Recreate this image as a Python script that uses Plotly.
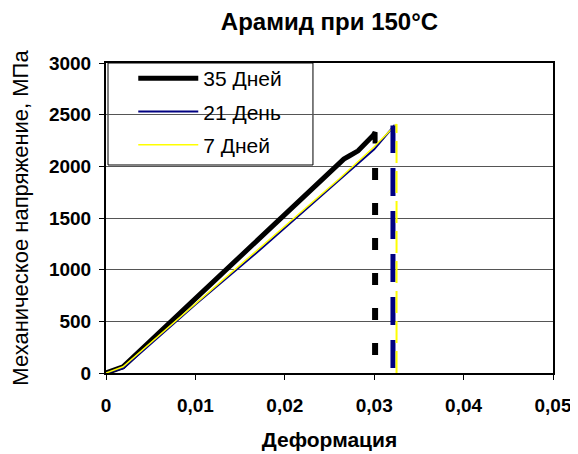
import plotly.graph_objects as go

# ---- data ----
series_names = ["35 Дней", "21 День", "7 Дней"]

strain_35 = [0, 0.0019, 0.0100, 0.0200, 0.0258, 0.0266, 0.0272, 0.0282, 0.0299, 0.0301, 0.0301]
stress_35 = [0, 60, 720, 1530, 1990, 2070, 2100, 2150, 2300, 2330, 2220]

strain_21 = [0, 0.0019, 0.0100, 0.0171, 0.0252, 0.0300, 0.0323]
stress_21 = [0, 45, 662, 1182, 1800, 2165, 2400]

strain_7 = [0, 0.0019, 0.0261, 0.0300, 0.0325]
stress_7 = [0, 60, 1880, 2190, 2410]

# failure markers (vertical dashed lines)
fail_35_x = [0.0301, 0.0301]
fail_35_y = [174, 1985]
fail_21_x = [0.0321, 0.0321]
fail_21_y = [48, 2396]
fail_7_x = [0.0325, 0.0325]
fail_7_y = [0, 2410]

x_ticks = [0, 0.01, 0.02, 0.03, 0.04, 0.05]
y_ticks = [0, 500, 1000, 1500, 2000, 2500, 3000]

FONT = "Liberation Sans, Arial, sans-serif"

fig = go.Figure()
fig.add_trace(go.Scatter(x=strain_35, y=stress_35, mode="lines", name=series_names[0],
                         legendgroup="a", line=dict(color="black", width=5)))
fig.add_trace(go.Scatter(x=strain_21, y=stress_21, mode="lines", name=series_names[1],
                         legendgroup="b", line=dict(color="#000080", width=2)))
fig.add_trace(go.Scatter(x=strain_7, y=stress_7, mode="lines", name=series_names[2],
                         legendgroup="c", line=dict(color="#FFFF00", width=1.5)))
fig.add_trace(go.Scatter(x=fail_35_x, y=fail_35_y, mode="lines", showlegend=False,
                         line=dict(color="black", width=6, dash="12px,23px")))
fig.add_trace(go.Scatter(x=fail_21_x, y=fail_21_y, mode="lines", showlegend=False,
                         line=dict(color="#000080", width=5, dash="28px,15px")))
fig.add_trace(go.Scatter(x=fail_7_x, y=fail_7_y, mode="lines", showlegend=False,
                         line=dict(color="#FFFF00", width=2, dash="22px,8px")))

# legend box (covers gridlines, sits beneath traces)
fig.add_shape(type="rect", xref="paper", yref="paper", x0=0.0045, x1=0.463, y0=0.671, y1=1.0,
              fillcolor="white", line=dict(color="black", width=1), layer="between")

# the page body adds an 8px margin, so the figure is 8px smaller than the window
fig.update_layout(
    width=570, height=446,
    margin=dict(l=98, r=25, t=55, b=81),
    paper_bgcolor="white", plot_bgcolor="white",
    separators=", ",
    font=dict(family=FONT, color="black"),
    title=dict(text="Арамид при 150°C", x=0.5, xref="paper", y=1 - 14 / 446, yanchor="middle",
               font=dict(size=24, weight="bold", family=FONT)),
    showlegend=True,
    legend=dict(x=0.061, y=1.016, xanchor="left", yanchor="top", bgcolor="rgba(0,0,0,0)",
                borderwidth=0, font=dict(size=21, family=FONT), itemwidth=60, tracegroupgap=3),
    xaxis=dict(range=[0, 0.05], tickvals=x_ticks, showgrid=False, zeroline=False, automargin=False,
               showline=True, linecolor="black", linewidth=2, mirror=True,
               ticks="outside", ticklen=5, tickcolor="black", ticklabelstandoff=9,
               tickfont=dict(size=19, weight="bold", family=FONT),
               title=dict(text="Деформация", font=dict(size=21, weight="bold", family=FONT), standoff=18)),
    yaxis=dict(range=[0, 3000], tickvals=y_ticks, showgrid=True, gridcolor="#555", gridwidth=1,
               zeroline=False, showline=True, linecolor="black", linewidth=2, mirror=True, automargin=False,
               ticks="outside", ticklen=5, tickcolor="black", ticklabelstandoff=4,
               tickfont=dict(size=19, weight="bold", family=FONT),
               title=dict(text="Механическое напряжение, МПа", font=dict(size=22, family=FONT), standoff=24)),
)

fig.write_html("out.html")
